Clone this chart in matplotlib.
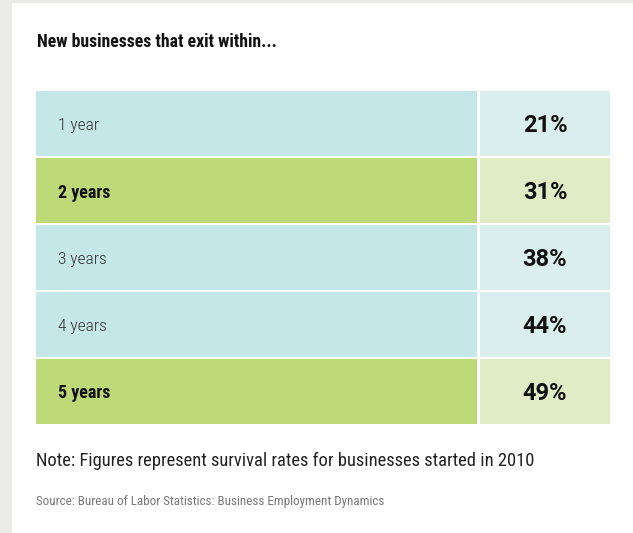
import matplotlib
matplotlib.use("Agg")
import matplotlib.pyplot as plt
from matplotlib import font_manager
from matplotlib.patches import Rectangle

# ---- data ----
categories = ["1 year", "2 years", "3 years", "4 years", "5 years"]
exit_pct = [21, 31, 38, 44, 49]
highlight = [False, True, False, False, True]
title = "New businesses that exit within..."
note = "Note: Figures represent survival rates for businesses started in 2010"
source = "Source: Bureau of Labor Statistics: Business Employment Dynamics"

# ---- font choice ----
avail = {f.name for f in font_manager.fontManager.ttflist}
fam = "DejaVu Sans"
for cand in ["Liberation Sans Narrow", "DejaVu Sans Condensed", "Roboto Condensed",
             "Open Sans Condensed", "Noto Sans Condensed", "Roboto"]:
    if cand in avail:
        fam = cand
        break
plt.rcParams["font.family"] = [fam, "DejaVu Sans"]
num_fam = ["Roboto", "DejaVu Sans"] if "Roboto" in avail else [fam, "DejaVu Sans"]

W, H = 633, 533
fig = plt.figure(figsize=(W / 100, H / 100), dpi=100)
fig.patch.set_facecolor("#ebebea")
fig.patches.append(Rectangle((12 / W, 0), 1 - 12 / W, 1 - 3 / H, transform=fig.transFigure,
                             facecolor="white", edgecolor="none", zorder=-5))

# table axes: x 36..610 px, y 91..424 px
x0, x1, y0, y1 = 36, 610, 91, 424
ax = fig.add_axes([x0 / W, 1 - y1 / H, (x1 - x0) / W, (y1 - y0) / H])
ax.set_zorder(2)
ax.set_facecolor("none")
pitch = 67.0
h = 65.0 / pitch
n = len(categories)
ax.set_ylim(n - 1 + h / 2, -h / 2)
ax.set_xlim(0, x1 - x0)
ax.axis("off")

left_w = 441
gap = 3
right_w = (x1 - x0) - left_w - gap
left_cols = ["#bdd978" if hl else "#c6e7e8" for hl in highlight]
right_cols = ["#e0ecc6" if hl else "#d9eeed" for hl in highlight]
ypos = list(range(n))
ax.barh(ypos, [left_w] * n, left=0, height=h, color=left_cols, edgecolor="none")
ax.barh(ypos, [right_w] * n, left=left_w + gap, height=h, color=right_cols, edgecolor="none")

dy = 2.0 / pitch
for i, (cat, v, hl) in enumerate(zip(categories, exit_pct, highlight)):
    ax.text(22, i + dy, cat, va="center", ha="left",
            fontsize=13 if hl else 12.5,
            fontweight="bold" if hl else "light",
            color="#111111" if hl else "#333333")
    ax.text(left_w + gap + right_w / 2, i + dy, f"{v}%", va="center", ha="center",
            fontsize=17, fontweight="bold", color="#111111", family=num_fam)

fig.text(37 / W, 1 - 42 / H, title, fontsize=12.8, fontweight="bold", color="#111111",
         va="center", ha="left")
fig.text(36 / W, 1 - 461 / H, note, fontsize=13.3, color="#222222", va="center", ha="left")
fig.text(36 / W, 1 - 502 / H, source, fontsize=9.4, color="#777777", va="center", ha="left")

fig.savefig("out.png", dpi=100)
